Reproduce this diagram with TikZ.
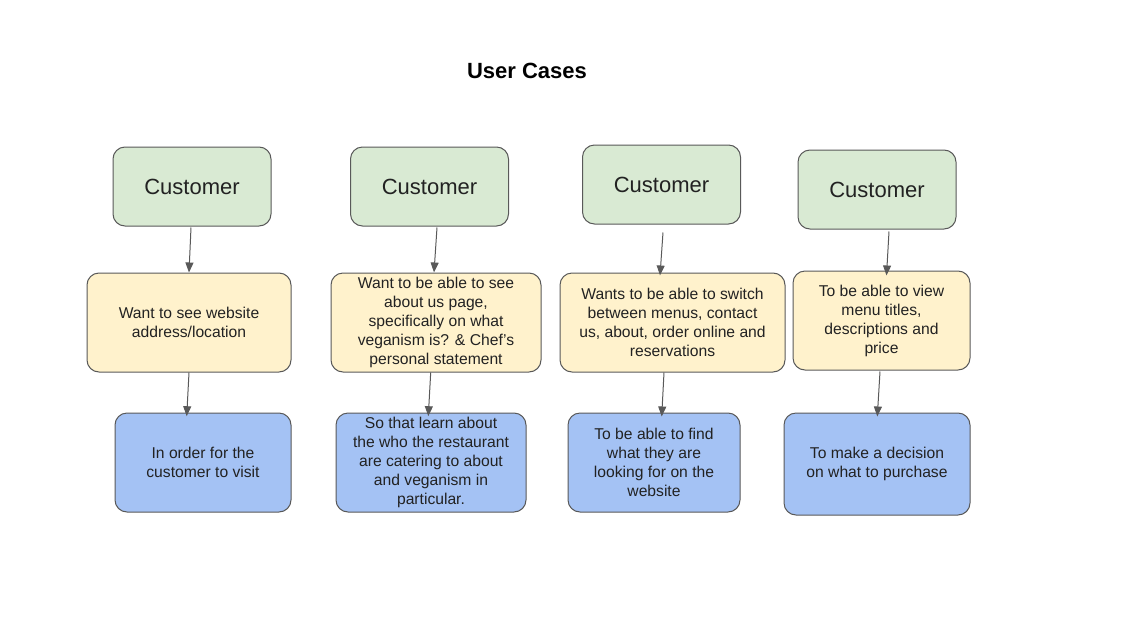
\documentclass[tikz,border=0pt]{standalone}
\usepackage{fontspec}
\setmainfont{Liberation Sans}
\usetikzlibrary{arrows.meta,calc}
\definecolor{custgreen}{HTML}{D9EAD3}
\definecolor{wantyellow}{HTML}{FFF2CC}
\definecolor{goalblue}{HTML}{A4C2F4}
\definecolor{linegray}{HTML}{595959}
\definecolor{textgray}{HTML}{222222}
\tikzset{title node/.style={font=\bfseries\fontsize{16.5}{20}\selectfont},
  cust node/.style={rectangle,rounded corners=9pt,fill=custgreen,draw=linegray,line width=0.75pt,minimum width=118.5pt,minimum height=59.25pt,text=textgray,font=\fontsize{16.5}{19}\selectfont},
  want node/.style={rectangle,rounded corners=9pt,fill=wantyellow,draw=linegray,line width=0.75pt,minimum height=74.25pt,align=center,inner sep=1pt,text=textgray,font=\fontsize{11.75}{14.25}\selectfont},
  goal node/.style={want node,fill=goalblue},
  arrow/.style={draw=linegray,line width=0.75pt,-{Triangle[length=7.5pt,width=6pt]}},}

\begin{document}
\begin{tikzpicture}[x=0.75pt,y=-0.75pt]
  \useasboundingbox (0,0) rectangle (1128,625);
  %% Nodes
  \node[title node] (title) at (527,71) {User Cases};
  \node[cust node] (c1) at (192,186.5) {Customer};
  \node[cust node] (c2) at (429.5,186.5) {Customer};
  \node[cust node] (c3) at (661.5,184.5) {Customer};
  \node[cust node] (c4) at (877,189.5) {Customer};
  \node[want node,minimum width=153pt] (w1) at (189,322.5) {Want to see website\\address/location};
  \node[want node,minimum width=157.5pt] (w2) at (436,322.5) {Want to be able to see\\about us page,\\specifically on what\\veganism is? \& Chef's\\personal statement};
  \node[want node,minimum width=168.75pt] (w3) at (672.5,322.5) {Wants to be able to switch\\between menus, contact\\us, about, order online and\\reservations};
  \node[want node,minimum width=132.75pt] (w4) at (881.5,320.5) {To be able to view\\menu titles,\\descriptions and\\price};
  \node[goal node,minimum width=132pt] (b1) at (203,462.5) {In order for the\\customer to visit};
  \node[goal node,minimum width=142.5pt] (b2) at (431,462.5) {So that learn about\\the who the restaurant\\are catering to about\\and veganism in\\particular.};
  \node[goal node,minimum width=129pt] (b3) at (654,462.5) {To be able to find\\what they are\\looking for on the\\website};
  \node[goal node,minimum width=139.5pt,minimum height=76.5pt] (b4) at (877,464) {To make a decision\\on what to purchase};
  %% Paths
  \path[every edge/.style={arrow}]
    ($(c1.south)+(-1,1)$) edge ($(w1.north)+(0,0)$)
    ($(c2.south)+(7.5,1)$) edge ($(w2.north)+(-2,0)$)
    ($(c3.south)+(1.5,8)$) edge ($(w3.north)+(-12.5,3)$)
    ($(c4.south)+(12,2)$) edge ($(w4.north)+(5,5)$)
    ($(w1.south)+(0,0)$) edge ($(b1.north)+(-16.3,3.7)$)
    ($(w2.south)+(-5.3,0)$) edge ($(b2.north)+(-2.7,3.7)$)
    ($(w3.south)+(-8.5,0)$) edge ($(b3.north)+(7.7,4)$)
    ($(w4.south)+(-1.5,1)$) edge ($(b4.north)+(0.3,4)$);
\end{tikzpicture}
\end{document}
